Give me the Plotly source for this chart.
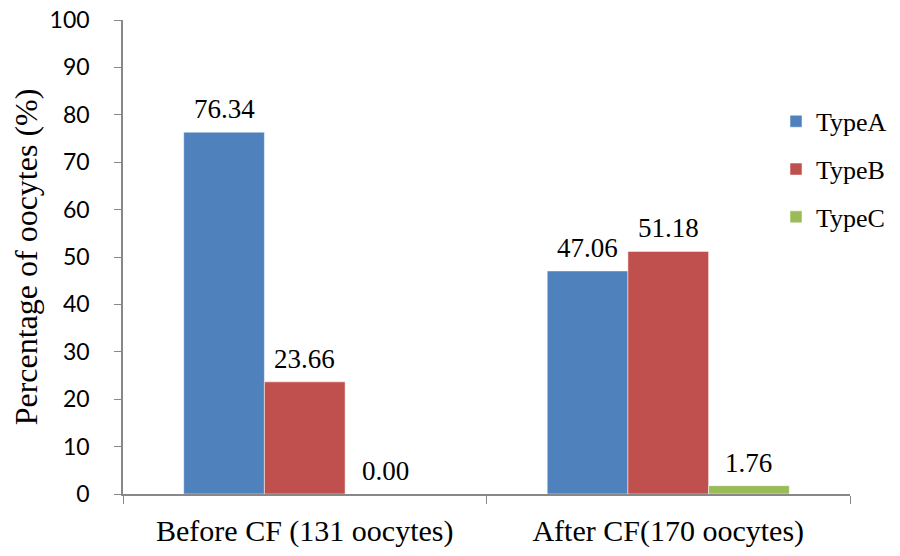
import plotly.graph_objects as go

categories = ["Before CF (131 oocytes)", "After CF(170 oocytes)"]
series_names = ["TypeA", "TypeB", "TypeC"]
type_a = [76.34, 47.06]
type_b = [23.66, 51.18]
type_c = [0.00, 1.76]
colors = ["#4F81BD", "#C0504D", "#9BBB59"]
y_ticks = [0, 10, 20, 30, 40, 50, 60, 70, 80, 90, 100]

serif = "Liberation Serif"
sans = "Lato"
bargap = 0.334

fig = go.Figure()
all_series = [type_a, type_b, type_c]
for i, (name, vals) in enumerate(zip(series_names, all_series)):
    fig.add_trace(go.Bar(
        x=categories, y=vals, name=name,
        marker=dict(color=colors[i], line=dict(color="white", width=0.5)),
        legendgroup=name,
    ))

# data labels above each bar (positions via axis coordinates)
bar_w = (1 - bargap) / len(all_series)
for j, vals in enumerate(all_series):
    for i, v in enumerate(vals):
        fig.add_annotation(
            x=i + (j - (len(all_series) - 1) / 2) * bar_w, y=v,
            xref="x", yref="y", text=f"{v:.2f}", showarrow=False,
            yanchor="bottom", yshift=6,
            font=dict(family=serif, size=27, color="black"),
        )

fig.update_layout(
    width=892, height=548,
    margin=dict(l=115, r=50, t=12, b=62, autoexpand=False),
    paper_bgcolor="white", plot_bgcolor="white",
    barmode="group", bargap=bargap, bargroupgap=0,
    showlegend=True,
    legend=dict(x=0.861, y=0.836, xref="container", yref="container",
                xanchor="left", yanchor="top",
                font=dict(family=serif, size=26, color="black"),
                traceorder="grouped", tracegroupgap=11,
                itemwidth=30, bgcolor="rgba(0,0,0,0)"),
    xaxis=dict(showline=True, linecolor="#888888", linewidth=1.5, automargin=False,
               ticks="outside", tickson="boundaries", ticklen=8, tickcolor="#888888",
               ticklabelstandoff=9,
               tickfont=dict(family=serif, size=30, color="black"),
               showgrid=False),
    yaxis=dict(range=[0, 100], tickvals=y_ticks, showline=True, linecolor="#888888", linewidth=1.5,
               automargin=False, ticklabeloverflow="allow",
               ticks="outside", ticklen=7, tickcolor="#888888",
               ticklabelstandoff=20,
               tickfont=dict(family=sans, size=23, color="black"),
               showgrid=False, zeroline=False,
               title=dict(text="Percentage of oocytes (%)", font=dict(family=serif, size=32, color="black"))),
)

fig.write_html("out.html")
